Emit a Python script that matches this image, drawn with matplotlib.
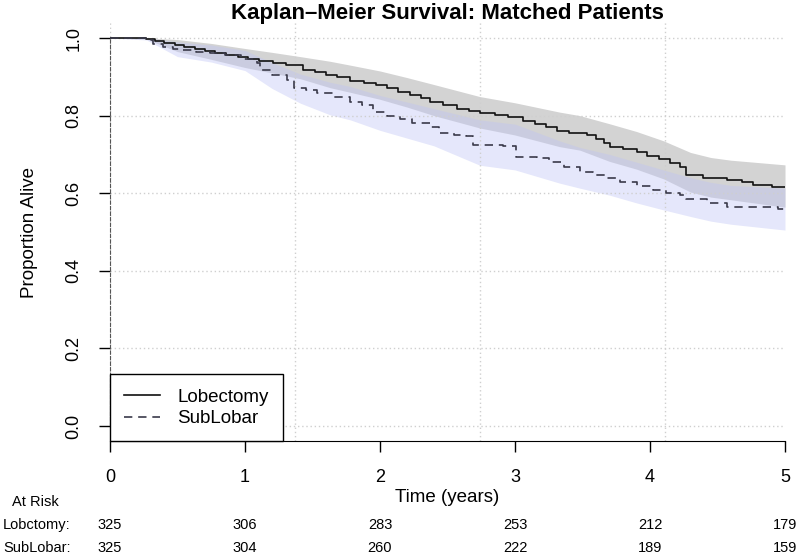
import matplotlib
matplotlib.use("Agg")
import matplotlib.pyplot as plt
from matplotlib.transforms import blended_transform_factory

plt.rcParams['font.family'] = ['Liberation Sans', 'DejaVu Sans']

# Kaplan-Meier step estimates
lob_t = [0, 0.27, 0.33, 0.40, 0.48, 0.55, 0.63, 0.70, 0.78, 0.86,
         0.95, 1.02, 1.10, 1.21, 1.30, 1.43, 1.52, 1.60, 1.68, 1.78,
         1.88, 1.97, 2.05, 2.13, 2.22, 2.30, 2.37, 2.47, 2.57, 2.66,
         2.74, 2.85, 2.95, 3.06, 3.15, 3.23, 3.31, 3.40, 3.53, 3.60,
         3.66, 3.70, 3.80, 3.90, 3.98, 4.07, 4.15, 4.22, 4.27, 4.39,
         4.57, 4.68, 4.76, 4.90, 5.0]
lob_s = [1.0, 0.997, 0.992, 0.987, 0.982, 0.977, 0.972, 0.967, 0.962, 0.957,
         0.950, 0.945, 0.941, 0.936, 0.930, 0.918, 0.912, 0.905, 0.899, 0.890,
         0.884, 0.879, 0.870, 0.860, 0.852, 0.845, 0.836, 0.827, 0.818, 0.812,
         0.807, 0.801, 0.796, 0.786, 0.778, 0.770, 0.760, 0.755, 0.750, 0.740,
         0.730, 0.720, 0.713, 0.706, 0.697, 0.688, 0.678, 0.668, 0.648, 0.638,
         0.634, 0.628, 0.622, 0.617, 0.617]

sub_t = [0, 0.27, 0.32, 0.39, 0.47, 0.54, 0.64, 0.74, 0.85, 0.97,
         1.09, 1.11, 1.20, 1.31, 1.36, 1.45, 1.53, 1.65, 1.78, 1.87,
         1.95, 2.05, 2.15, 2.24, 2.37, 2.44, 2.55, 2.64, 2.69, 2.91,
         3.01, 3.16, 3.25, 3.36, 3.48, 3.58, 3.68, 3.78, 3.90, 4.02,
         4.12, 4.22, 4.27, 4.42, 4.57, 4.81, 4.95, 5.0]
sub_s = [1.0, 0.995, 0.985, 0.977, 0.972, 0.969, 0.965, 0.961, 0.955, 0.947,
         0.936, 0.918, 0.905, 0.892, 0.871, 0.865, 0.858, 0.847, 0.835, 0.827,
         0.809, 0.800, 0.790, 0.781, 0.771, 0.755, 0.751, 0.747, 0.724, 0.722,
         0.693, 0.691, 0.680, 0.668, 0.655, 0.647, 0.638, 0.629, 0.618, 0.608,
         0.601, 0.595, 0.585, 0.575, 0.564, 0.564, 0.559, 0.559]

# confidence bands
band_t = [0, 0.27, 0.5, 0.75, 1.0, 1.2, 1.41, 1.63, 1.78, 2.0, 2.2,
          2.4, 2.74, 3.0, 3.33, 3.48, 3.7, 3.9, 4.1, 4.3, 4.45, 4.6, 5.0]
lob_hi = [1.0, 1.0, 0.996, 0.986, 0.973, 0.963, 0.952, 0.940, 0.930, 0.915, 0.898,
          0.880, 0.849, 0.833, 0.809, 0.800, 0.779, 0.759, 0.735, 0.705, 0.692, 0.685, 0.673]
lob_lo = [1.0, 0.997, 0.965, 0.945, 0.924, 0.910, 0.895, 0.872, 0.860, 0.842, 0.822,
          0.800, 0.768, 0.750, 0.720, 0.711, 0.682, 0.662, 0.637, 0.603, 0.590, 0.583, 0.564]
sub_hi = [1.0, 1.0, 0.990, 0.982, 0.968, 0.937, 0.907, 0.886, 0.875, 0.852, 0.835,
          0.818, 0.789, 0.778, 0.735, 0.718, 0.700, 0.680, 0.660, 0.640, 0.628, 0.620, 0.613]
sub_lo = [1.0, 0.995, 0.952, 0.938, 0.916, 0.870, 0.832, 0.802, 0.789, 0.762, 0.742,
          0.722, 0.672, 0.660, 0.626, 0.613, 0.595, 0.575, 0.557, 0.540, 0.528, 0.520, 0.505]

risk_times = [0, 1, 2, 3, 4, 5]
risk_lob = [325, 306, 283, 253, 212, 179]
risk_sub = [325, 304, 260, 222, 189, 159]

fig = plt.figure(figsize=(8, 5.58), dpi=100)
ax = fig.add_axes([0.1375, 0.2088, 0.84375, 0.7509])
ax.set_xlim(0, 5)
ax.set_ylim(-0.04, 1.04)

# grid (R style: dotted light gray)
for gx in [0, 1.37, 2.74, 4.11]:
    ax.axvline(gx, color='#cfcfcf', ls=(0, (1, 2)), lw=1, zorder=1.5)
for gy in [0, 0.2, 0.4, 0.6, 0.8, 1.0]:
    ax.axhline(gy, color='#cfcfcf', ls=(0, (1, 2)), lw=1, zorder=1.5)

ax.fill_between(band_t, lob_lo, lob_hi, color='#d3d3d3', lw=0, zorder=1)
ax.fill_between(band_t, sub_lo, sub_hi, color='#bec3f5', alpha=0.4, lw=0, zorder=1.2)

ax.plot(lob_t, lob_s, drawstyle='steps-post', color='#111111', lw=1.2, zorder=3,
        label='Lobectomy')
ax.plot(sub_t, sub_s, drawstyle='steps-post', color='#3a3a4a', lw=1.2,
        dashes=(5, 3.5), zorder=3.1, label='SubLobar')

for side in ['top', 'right']:
    ax.spines[side].set_visible(False)
ax.spines['bottom'].set_bounds(0, 5)
ax.spines['left'].set_bounds(0, 1)
ax.spines['left'].set_linestyle((0, (3, 2)))
ax.spines['left'].set_color('#555555')

ax.set_xticks(risk_times)
ax.set_yticks([0, 0.2, 0.4, 0.6, 0.8, 1.0])
ax.set_yticklabels(['0.0', '0.2', '0.4', '0.6', '0.8', '1.0'], rotation=90, va='center')
ax.tick_params(axis='both', direction='out', length=8, width=1, pad=12,
               labelsize=13, color='black')

leg = ax.legend(loc='lower left', bbox_to_anchor=(0, 0), borderaxespad=0,
                fancybox=False, edgecolor='black', fontsize=13.5,
                handlelength=1.9, handletextpad=0.95, borderpad=0.75,
                labelspacing=0.25, framealpha=1)
leg.get_frame().set_linewidth(1.0)
leg.set_zorder(5)

fig.text(0.559, 0.975, 'Kaplan\u2013Meier Survival: Matched Patients',
         ha='center', va='center', fontsize=16, fontweight='bold')
fig.text(0.559, 0.109, 'Time (years)', ha='center', va='center', fontsize=13.5)
fig.text(0.0375, 0.584, 'Proportion Alive', ha='center', va='center',
         rotation=90, fontsize=13.5)

# at-risk table
tr = blended_transform_factory(ax.transData, fig.transFigure)
fig.text(0.044, 0.1004, 'At Risk', ha='center', va='center', fontsize=10.5)
fig.text(0.004, 0.0591, 'Lobctomy:', ha='left', va='center', fontsize=10.5)
fig.text(0.004, 0.0179, 'SubLobar:', ha='left', va='center', fontsize=10.5)
for t, a, b in zip(risk_times, risk_lob, risk_sub):
    ax.text(t, 0.0591, str(a), transform=tr, ha='center', va='center', fontsize=10.5)
    ax.text(t, 0.0179, str(b), transform=tr, ha='center', va='center', fontsize=10.5)

fig.savefig('out.png', dpi=100)
